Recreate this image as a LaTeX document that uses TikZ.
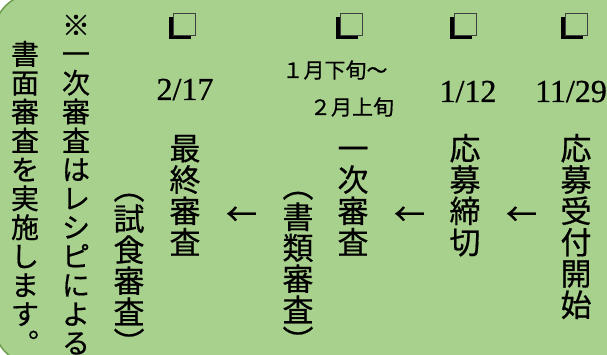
\documentclass[tikz,border=0pt]{standalone}
\usepackage{fontspec}
\setmainfont{Liberation Serif}
\newfontfamily\jp[FakeBold=0.6]{Noto Sans CJK JP}
\newfontfamily\datefont[FakeBold=0.8]{Liberation Serif}
\definecolor{bggreen}{HTML}{A9D18E}
\definecolor{edgegreen}{HTML}{6E9E4E}
\tikzset{
  bigchar/.style={font=\jp\fontsize{31}{31}\selectfont, inner sep=0pt, text height=23.5pt, text depth=0.5pt, anchor=center},
  notechar/.style={font=\jp\fontsize{28}{28}\selectfont, inner sep=0pt, text height=22pt, text depth=1pt, anchor=center},
  datetxt/.style={font=\datefont\fontsize{32}{32}\selectfont, inner sep=0pt, anchor=base},
  periodtxt/.style={font=\jp\fontsize{21}{21}\selectfont, inner sep=0pt},
  arrowtxt/.style={font=\jp\fontsize{31}{31}\selectfont, inner sep=0pt},
  checkbox/.style={draw=black!75, line width=0.9pt, fill=bggreen, minimum size=22pt, inner sep=0pt},
  boxshadow/.style={fill=black, minimum size=22pt, inner sep=0pt},
}
\newcommand\vcolumn[6]{%
  \foreach \ch [count=\k from 0] in {#6} {
    \node[#5] (#1-\k) at (#2, #3+\k*#4) {\ch};
  }%
}
\begin{document}
\begin{tikzpicture}[x=1pt,y=-1pt]
\useasboundingbox (0,0) rectangle (607,355);
\clip (0,0) rectangle (607,355);
\fill[white] (0,0) rectangle (607,355);
\draw[edgegreen, line width=1.5pt, fill=bggreen, rounded corners=40pt] (-6,-6) rectangle (700,364);

\foreach \nm/\cx in {a/576, b/465, c/351, d/184} {
  \node[boxshadow] (shadow-\nm) at (\cx-4, 28) {};
  \node[checkbox] (box-\nm) at (\cx,24) {};
}

\node[datetxt] (date-a) at (571,102) {11/29};
\node[datetxt] (date-b) at (468,102) {1/12};
\node[datetxt] (date-d) at (185,100) {2/17};

\node[periodtxt] (period-1) at (335,70) {１月下旬～};
\node[periodtxt] (period-2) at (352,107) {２月上旬};

\node[arrowtxt] (arrow-1) at (521.5,216) {←};
\node[arrowtxt] (arrow-2) at (409.5,216) {←};
\node[arrowtxt] (arrow-3) at (241.5,216) {←};

\vcolumn{c1}{576}{148.5}{31.3}{bigchar}{応,募,受,付,開,始}
\vcolumn{c2}{465}{148.5}{31.3}{bigchar}{応,募,締,切}
\vcolumn{c3}{353}{148.5}{31.3}{bigchar}{一,次,審,査}
\vcolumn{c4}{185}{148.5}{31.3}{bigchar}{最,終,審,査}
\vcolumn{c5}{298}{186}{31}{bigchar}{︵,書,類,審,査,︶}
\vcolumn{c6}{129}{188}{31}{bigchar}{︵,試,食,審,査,︶}
\vcolumn{n1}{76}{25}{28.9}{notechar}{※,一,次,審,査,は,レ,シ,ピ,に,よ,る}
\vcolumn{n2}{25}{54}{28.9}{notechar}{書,面,審,査,を,実,施,し,ま,す,︒}
\end{tikzpicture}
\end{document}
